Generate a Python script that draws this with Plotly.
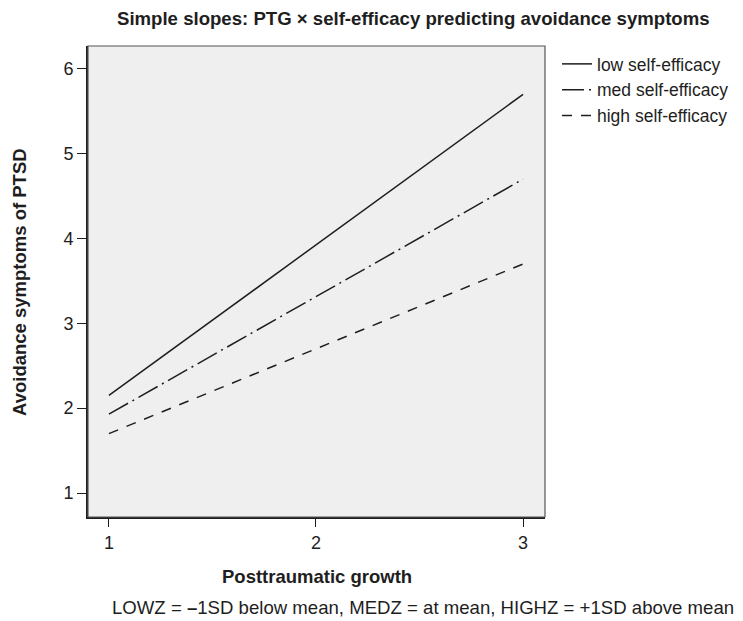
import plotly.graph_objects as go

# Data
ptg = [1, 3]
low_se = [2.15, 5.70]
med_se = [1.93, 4.70]
high_se = [1.70, 3.70]
series_names = ["low self-efficacy", "med self-efficacy", "high self-efficacy"]
x_ticks = [1, 2, 3]
y_ticks = [1, 2, 3, 4, 5, 6]

FONT = "Liberation Sans, Arial, sans-serif"
INK = "#1e1e1e"

OFF = 8  # page body margin
W, H = 743 - OFF, 621 - OFF
L, T = 88 - OFF, 46 - OFF
pw, ph = 457, 471
R = W - L - pw
B = H - T - ph

def px_to_paper(xp, yp):
    # xp, yp are screen pixel positions in the reference
    return (xp - OFF - L) / pw, (T + ph - (yp - OFF)) / ph

fig = go.Figure()
styles = ["solid", "22px,5px,2px,5px", "10px,9px"]
for name, vals, dash in zip(series_names, [low_se, med_se, high_se], styles):
    fig.add_trace(go.Scatter(
        x=ptg, y=vals, mode="lines", name=name,
        line=dict(color=INK, width=1.5, dash=dash),
    ))

lx, ly = px_to_paper(557, 46)
fig.update_layout(
    width=W, height=H,
    margin=dict(l=L, r=R, t=T, b=B, autoexpand=False),
    paper_bgcolor="white",
    plot_bgcolor="#eeefee",
    font=dict(family=FONT, color=INK, size=18),
    showlegend=True,
    legend=dict(
        x=lx, y=ly, xanchor="left", yanchor="top",
        bgcolor="rgba(0,0,0,0)", font=dict(size=17.5, color=INK),
        itemwidth=30, tracegroupgap=0,
    ),
)

def label(text, xp, yp, size, angle=0):
    x, y = px_to_paper(xp, yp)
    fig.add_annotation(text=text, x=x, y=y, xref="paper", yref="paper",
                       xanchor="center", yanchor="middle", showarrow=False,
                       textangle=angle, font=dict(size=size, color=INK, family=FONT))

label("<b>Simple slopes: PTG × self-efficacy predicting avoidance symptoms</b>", 413, 18, 18.6)
label("<b>Posttraumatic growth</b>", 317, 576, 18.5)
label("<b>Avoidance symptoms of PTSD</b>", 19, 282, 18.5, angle=-90)
label("LOWZ = <b>–</b>1SD below mean, MEDZ = at mean, HIGHZ = +1SD above mean", 423, 607, 18.6)

fig.update_xaxes(
    range=[0.899, 3.106], tickvals=x_ticks, ticktext=[str(v) for v in x_ticks],
    showgrid=False, zeroline=False, automargin=False,
    showline=True, linewidth=2, linecolor=INK,
    ticks="outside", ticklen=8, tickwidth=1.2, tickcolor=INK,
    tickfont=dict(size=18, color=INK),
)
fig.update_yaxes(
    range=[0.717, 6.27], tickvals=y_ticks, ticktext=[str(v) for v in y_ticks],
    showgrid=False, zeroline=False, automargin=False,
    showline=True, linewidth=2, linecolor=INK,
    ticks="outside", ticklen=9, tickwidth=1.2, tickcolor=INK,
    tickfont=dict(size=18, color=INK),
)
fig.add_shape(type="rect", xref="paper", yref="paper", x0=0, y0=0, x1=1, y1=1,
              line=dict(color="#555555", width=1.2), fillcolor="rgba(0,0,0,0)", layer="above")

fig.write_html("out.html")
